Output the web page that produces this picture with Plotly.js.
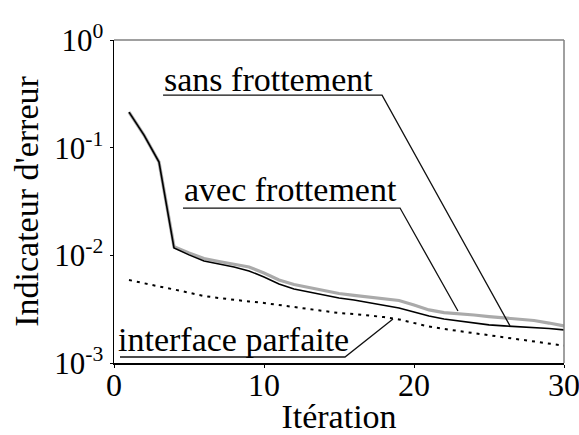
<!DOCTYPE html>
<html>
<head>
<meta charset="utf-8">
<script src="https://cdn.plot.ly/plotly-3.0.1.min.js"></script>
<style>html,body{margin:0;padding:0;background:#fff;}#chart{width:579px;height:435px;}</style>
</head>
<body>
<div id="chart"></div>
<script>
// Iterations
const iterations = [1,2,3,4,5,6,7,8,9,10,11,12,13,14,15,16,17,18,19,20,21,22,23,24,25,26,27,28,29,30];
// "avec frottement" (black line)
const avecFrottement = [0.214,0.131,0.0736,0.0117,0.0101,0.00885,0.00831,0.0078,0.00716,0.0063,
  0.00542,0.00487,0.00456,0.00428,0.00402,0.00385,0.00365,0.00346,0.00324,0.00298,
  0.00273,0.00256,0.00246,0.00235,0.00226,0.00221,0.00218,0.00214,0.00209,0.00203];
// "sans frottement" (grey line)
const sansFrottement = [0.214,0.131,0.0736,0.0120,0.0105,0.00935,0.00877,0.00831,0.0078,0.00686,
  0.0059,0.00536,0.00502,0.00471,0.00442,0.00424,0.0041,0.00397,0.00381,0.00346,
  0.00311,0.00294,0.00288,0.00279,0.0027,0.00262,0.00256,0.00248,0.00235,0.00221];
// "interface parfaite" (dotted line)
const interfaceParfaite = [0.0059,0.00548,0.00514,0.00482,0.00447,0.00419,0.00401,0.00385,0.00373,0.00361,
  0.00346,0.00331,0.00317,0.00304,0.00291,0.00285,0.00276,0.00267,0.00254,0.00235,
  0.00218,0.00207,0.00198,0.0019,0.0018,0.00172,0.00165,0.00158,0.00152,0.00145];
// Axis ticks
const yTickVals = [0.001,0.01,0.1,1];
const yTickText = ['10<sup>-3</sup>','10<sup>-2</sup>','10<sup>-1</sup>','10<sup>0</sup>'];
const xTickVals = [0,10,20,30];
const labels = ['sans frottement','avec frottement','interface parfaite'];

const FONT = '"Liberation Serif", "Times New Roman", Times, serif';

const traces = [
  {x: iterations, y: sansFrottement, mode:'lines', line:{color:'#aaaaaa', width:3.2}, name:labels[0]},
  {x: iterations, y: avecFrottement, mode:'lines', line:{color:'#000000', width:1.6}, name:labels[1]},
  {x: iterations, y: interfaceParfaite, mode:'lines', line:{color:'#000000', width:2, dash:'3px,5px'}, name:labels[2]}
];

const lineStyle = {color:'#111111', width:1.3};
const layout = {
  width:579, height:435,
  margin:{l:114, r:15, t:40, b:72},
  paper_bgcolor:'#ffffff', plot_bgcolor:'#ffffff',
  showlegend:false,
  font:{family:FONT, color:'#000', size:30},
  xaxis:{range:[0,30], tickvals:xTickVals, ticks:'outside', ticklen:3, tickcolor:'#000',
    showline:true, linecolor:'#000', linewidth:1.5, showgrid:false, zeroline:false, ticklabeloverflow:'allow',
    ticklabelstandoff:-10,
    tickfont:{family:FONT, size:32, color:'#000'}, title:{text:'Itération', font:{family:FONT, size:34}, standoff:20}},
  yaxis:{type:'log', range:[-3,0], tickvals:yTickVals, ticktext:yTickText, ticks:'outside', ticklen:3, tickcolor:'#000',
    showline:true, linecolor:'#000', linewidth:1.5, showgrid:false, zeroline:false, ticklabeloverflow:'allow',
    tickfont:{family:FONT, size:31, color:'#000'}, title:{text:"Indicateur d'erreur", font:{family:FONT, size:34}, standoff:5}},
  shapes:[
    {type:'line', xref:'paper', yref:'paper', x0:0, x1:1, y0:1, y1:1, line:{color:'#808080', width:1.5}},
    {type:'line', xref:'paper', yref:'paper', x0:1, x1:1, y0:0, y1:1, line:{color:'#808080', width:1.5}},
    {type:'path', xref:'x', yref:'y', path:'M3.27,0.308 L17.87,0.308 L26.4,0.00221', line:lineStyle},
    {type:'path', xref:'x', yref:'y', path:'M4.6,0.0275 L19.07,0.0275 L22.93,0.00304', line:lineStyle},
    {type:'path', xref:'x', yref:'y', path:'M0.4,0.001137 L15.4,0.001137 L18.6,0.002564', line:lineStyle}
  ],
  annotations:[
    {text:labels[0], xref:'paper', yref:'paper', x:0.1067, y:0.813, xanchor:'left', yanchor:'bottom', showarrow:false, font:{family:FONT, size:34, color:'#000'}},
    {text:labels[1], xref:'paper', yref:'paper', x:0.151, y:0.4724, xanchor:'left', yanchor:'bottom', showarrow:false, font:{family:FONT, size:34, color:'#000'}},
    {text:labels[2], xref:'paper', yref:'paper', x:0.0044, y:0.008, xanchor:'left', yanchor:'bottom', showarrow:false, font:{family:FONT, size:34, color:'#000'}}
  ]
};
Plotly.newPlot('chart', traces, layout, {staticPlot:true, displayModeBar:false});
</script>
</body>
</html>
